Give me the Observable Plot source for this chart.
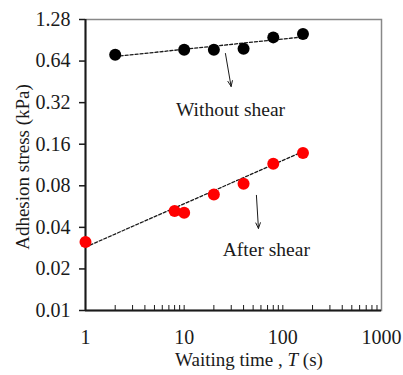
<!DOCTYPE html>
<html><head><meta charset="utf-8">
<script src="https://cdn.jsdelivr.net/npm/d3@7"></script>
<script src="https://cdn.jsdelivr.net/npm/@observablehq/plot@0.6"></script>
<style>
body{margin:0;background:#fff}
svg, svg text { font-family: "Liberation Serif", "Times New Roman", serif; }
</style>
</head><body><div id="chart"></div>
<script>
// Data
const timeWithout = [2, 10, 20, 40, 80, 160];
const stressWithout = [0.711, 0.772, 0.772, 0.786, 0.95, 1.005];
const timeAfter = [1, 8, 10, 20, 40, 80, 160];
const stressAfter = [0.0313, 0.0525, 0.0511, 0.0693, 0.0828, 0.1156, 0.138];
// dashed trend lines (end points)
const fitTimeWithout = [2, 165];
const fitStressWithout = [0.691, 0.96];
const fitTimeAfter = [1, 165];
const fitStressAfter = [0.0288, 0.143];
// ticks
const yTicks = [0.01, 0.02, 0.04, 0.08, 0.16, 0.32, 0.64, 1.28];
const yTickLabels = ["0.01", "0.02", "0.04", "0.08", "0.16", "0.32", "0.64", "1.28"];
const xTicks = [1, 10, 100, 1000];
const xTickLabels = ["1", "10", "100", "1000"];
const xMinorTicks = [2,3,4,5,6,7,8,9,10,20,30,40,50,60,70,80,90,100,200,300,400,500,600,700,800,900];
// annotations
const annoText = ["Without shear", "After shear"];
const annoT = [29.5, 68];
const annoY = [0.286, 0.0277];
const arrowT1 = [26.2, 54];
const arrowY1 = [0.726, 0.0682];
const arrowT2 = [29.9, 56.6];
const arrowY2 = [0.419, 0.0393];

const without = timeWithout.map((t, i) => ({t, s: stressWithout[i]}));
const after = timeAfter.map((t, i) => ({t, s: stressAfter[i]}));
const fitW = fitTimeWithout.map((t, i) => ({t, s: fitStressWithout[i]}));
const fitA = fitTimeAfter.map((t, i) => ({t, s: fitStressAfter[i]}));
const annos = annoText.map((text, i) => ({text, t: annoT[i], s: annoY[i]}));
const arrows = arrowT1.map((t1, i) => ({t1, s1: arrowY1[i], t2: arrowT2[i], s2: arrowY2[i]}));
const yTickData = yTicks.map((v, i) => ({v, label: yTickLabels[i]}));
const xTickData = xTicks.map((v, i) => ({v, label: xTickLabels[i]}));

const ink = "#1a1a1a";
const chart = Plot.plot({
  width: 403, height: 375,
  marginLeft: 85, marginRight: 22, marginTop: 19, marginBottom: 65,
  style: {fontFamily: "Liberation Serif", fontSize: "19px", color: ink, background: "#fff"},
  x: {type: "log", domain: [1, 1000], axis: null},
  y: {type: "log", domain: [0.01, 1.28], axis: null},
  marks: [
    Plot.frame({stroke: "#888", strokeWidth: 1.5}),
    // x minor/major ticks pointing inward
    Plot.tickX(xMinorTicks, {x: d => d, insetTop: 286, stroke: ink, strokeWidth: 1}),
    // y ticks pointing outward
    Plot.tickY(yTicks, {y: d => d, insetRight: 290, dx: -6, stroke: ink, strokeWidth: 1.5}),
    Plot.text(yTickData, {y: "v", text: "label", frameAnchor: "left", textAnchor: "end", dx: -15, fontSize: 20, fill: ink}),
    Plot.text(xTickData, {x: "v", text: "label", frameAnchor: "bottom", lineAnchor: "top", dy: 19, fontSize: 20, fill: ink}),
    Plot.ruleX([1], {stroke: ink, strokeWidth: 2}),
    Plot.ruleY([0.01], {stroke: ink, strokeWidth: 2}),
    Plot.line(fitW, {x: "t", y: "s", stroke: ink, strokeWidth: 1.3, strokeDasharray: "3,2"}),
    Plot.line(fitA, {x: "t", y: "s", stroke: ink, strokeWidth: 1.3, strokeDasharray: "3,2"}),
    Plot.dot(without, {x: "t", y: "s", r: 6, fill: "#000"}),
    Plot.dot(after, {x: "t", y: "s", r: 6, fill: "#ff0000"}),
    Plot.arrow(arrows, {x1: "t1", y1: "s1", x2: "t2", y2: "s2", stroke: ink, strokeWidth: 1, headLength: 9, headAngle: 45}),
    Plot.text(annos, {x: "t", y: "s", text: "text", fontSize: 19.5, fill: ink}),
    Plot.text(["Adhesion stress (kPa)"], {frameAnchor: "left", textAnchor: "middle", rotate: -90, dx: -63, dy: 2, fontSize: 19, fill: ink})
  ]
});
document.getElementById("chart").appendChild(chart);

// x-axis label with italic T
const svg = d3.select(chart);
const xl = svg.append("text")
  .attr("x", 249).attr("y", 366)
  .attr("text-anchor", "middle")
  .attr("fill", ink)
  .style("font-size", "19px");
xl.append("tspan").text("Waiting time , ");
xl.append("tspan").attr("font-style", "italic").text("T");
xl.append("tspan").text(" (s)");
</script>
</body></html>
